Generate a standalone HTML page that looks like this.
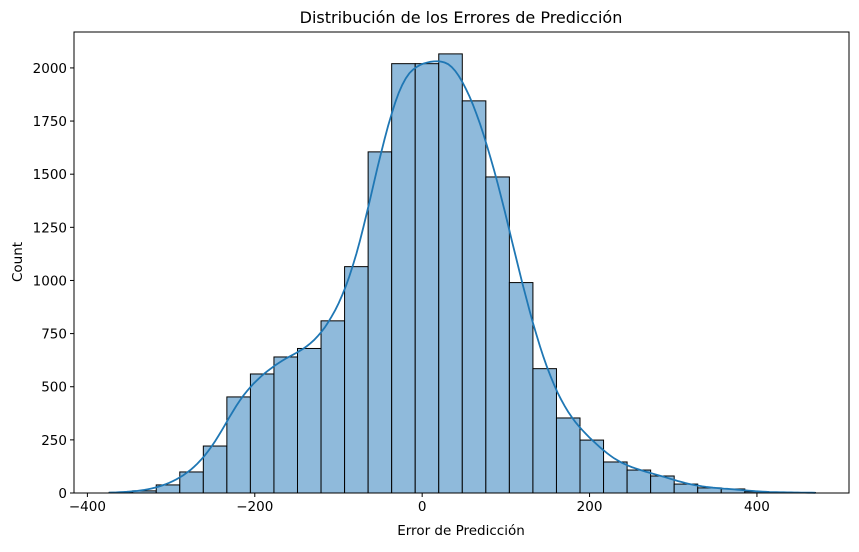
<!DOCTYPE html>
<html><head><meta charset="utf-8"><style>
body{margin:0;background:#fff;}
svg text{font-family:"DejaVu Sans","Liberation Sans",sans-serif;fill:#000;}
</style></head><body>
<svg id="chart" width="859" height="547" xmlns="http://www.w3.org/2000/svg">
<text x="461" y="23" font-size="16" text-anchor="middle">Distribución de los Errores de Predicción</text>
<g id="bars"></g>
<g id="kde"></g>
<g id="xaxis"></g>
<g id="yaxis"></g>
<rect x="74" y="32" width="775" height="461" fill="none" stroke="#000" stroke-width="1"/>
<text x="461" y="535" font-size="13.5" text-anchor="middle">Error de Predicción</text>
<text transform="translate(22,262) rotate(-90)" font-size="13.5" text-anchor="middle">Count</text>
</svg>
<script>
const binStart = -374;
const binWidth = 28.13;
const counts = [3,10,38,99,221,452,560,640,680,810,1065,1605,2020,2020,2066,1845,1487,990,585,353,249,146,108,80,42,24,19,6,3,2];
const xTicks = [-400,-200,0,200,400];
const yTicks = [0,250,500,750,1000,1250,1500,1750,2000];
const L=74,R=849,T=32,B=493, xMin=-416, xMax=510, yMax=2169;
const ns="http://www.w3.org/2000/svg";
const xs=v=>L+(v-xMin)/(xMax-xMin)*(R-L);
const ys=v=>B-v/yMax*(B-T);
function mk(tag,attrs,parent){const e=document.createElementNS(ns,tag);for(const k in attrs)e.setAttribute(k,attrs[k]);parent.appendChild(e);return e;}
const bars=document.getElementById('bars');
counts.forEach((c,i)=>{
  const x0=xs(binStart+i*binWidth), x1=xs(binStart+(i+1)*binWidth);
  const r=mk('rect',{x:x0,y:ys(c),width:x1-x0,height:B-ys(c),fill:'#8fbadb',stroke:'#000','stroke-width':1},bars);
  
  
});
const xmin=binStart, xmax=binStart+counts.length*binWidth, bw=19;
let pts=[];
for(let k=0;k<=200;k++){
  const x=xmin+(xmax-xmin)*k/200; let s=0;
  counts.forEach((c,i)=>{const m=binStart+(i+0.5)*binWidth;s+=c*Math.exp(-0.5*((x-m)/bw)**2);});
  const val=s/(bw*Math.sqrt(2*Math.PI))*binWidth;
  pts.push(xs(x).toFixed(1)+','+ys(val).toFixed(1));
}
const kp=mk('polyline',{points:pts.join(' '),fill:'none',stroke:'#1f77b4','stroke-width':1.8},document.getElementById('kde'));


const xa=document.getElementById('xaxis');
xTicks.forEach(t=>{
  mk('line',{x1:xs(t),x2:xs(t),y1:B,y2:B+4,stroke:'#000'},xa);
  const tx=mk('text',{x:xs(t),y:B+18,'font-size':13.5,'text-anchor':'middle'},xa);
  tx.textContent=t<0?'\u2212'+(-t):String(t);
  
  
});
const ya=document.getElementById('yaxis');
yTicks.forEach(t=>{
  mk('line',{x1:L-4,x2:L,y1:ys(t),y2:ys(t),stroke:'#000'},ya);
  const tx=mk('text',{x:L-7,y:ys(t)+5,'font-size':13.5,'text-anchor':'end'},ya);
  tx.textContent=String(t);
  
  
});
</script>
</body></html>
